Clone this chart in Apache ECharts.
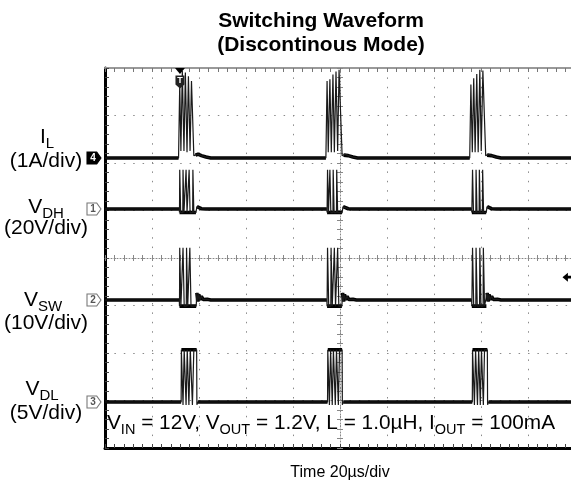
<!DOCTYPE html>
<html><head><meta charset="utf-8">
<script src="https://cdn.jsdelivr.net/npm/echarts@6/dist/echarts.min.js"></script>
<style>html,body{margin:0;padding:0;background:#fff}#c{width:571px;height:488px}</style>
</head><body><div id="c"></div>
<script>
// ---------- text ----------
const TITLE_LINES = ['Switching Waveform', '(Discontinous Mode)'];
const X_NAME = 'Time 20µs/div';
const NOTE = '{m|V}{s|IN}{m| = 12V, V}{s|OUT}{m| = 1.2V, L = 1.0µH, I}{s|OUT}{m| = 100mA}';
const CH_NAMES = ['{m|I}{s|L}', '{m|V}{s|DH}', '{m|V}{s|SW}', '{m|V}{s|DL}'];
const CH_SCALES_TEXT = ['(1A/div)', '(20V/div)', '(10V/div)', '(5V/div)'];
const CH_NUMBERS = ['4', '1', '2', '3'];

// ---------- scope settings ----------
const T_MIN = -100, T_MAX = 100, T_DIV = 20;      // µs, screen centre = 0
const DIV_MIN = -4, DIV_MAX = 4;                  // vertical divisions
const CH_UNITS_PER_DIV = [1, 20, 10, 5];          // A/div, V/div, V/div, V/div
const CH_POSITION_DIV = [2.105, 1.032, -0.884, -3.032];
const TRIG_TIME = -68.1;                          // µs
const TRIG_LEVEL_VSW = 4.8;                       // V

// ---------- waveforms [time µs, value] ----------
const IL_WAVE = [
  [-100,0],[-68.7,0],
  [-68.2,1.55],[-67.7,0.15],[-67.1,1.83],[-66.4,0.15],[-65.8,1.80],[-65.1,0.12],
  [-64.5,1.72],[-63.8,0.15],[-63.2,1.62],[-62.2,0.05],
  [-61.5,0.06],[-60.4,0.08],[-59.0,0.05],[-57,0.02],[-55,0],
  [-6.0,0],
  [-5.5,1.62],[-5.0,0.12],[-4.3,1.66],[-3.7,0.12],[-3.0,1.76],[-2.4,0.12],
  [-1.7,1.82],[-1.0,0.15],[-0.4,1.86],[0.9,0.05],
  [1.5,0.06],[2.2,0.08],[3.5,0.05],[5.5,0.02],[7.5,0],
  [55.2,0],
  [55.7,1.55],[56.3,0.12],[56.9,1.68],[57.5,0.12],[58.2,1.77],[58.8,0.12],
  [59.5,1.86],[60.1,0.15],[60.8,1.84],[62.0,0.05],
  [62.6,0.06],[63.2,0.08],[64.5,0.05],[66.5,0.02],[68.5,0],
  [100,0]
];
const VDH_WAVE = [
  [-100,0],[-68.4,0],[-68.3,-1.5],
  [-68.2,16.5],[-67.9,16.5],[-67.8,-1.5],
  [-66.9,-1.5],[-66.8,16.5],[-66.5,16.5],[-66.4,-1.5],
  [-65.6,-1.5],[-65.5,16.5],[-65.2,16.5],[-65.1,-1.5],
  [-64.3,-1.5],[-64.2,16.5],[-63.9,16.5],[-63.8,-1.5],
  [-62.7,-1.5],[-62.6,16.5],[-62.3,16.5],[-62.2,-1.5],
  [-61.3,-1.5],[-60.9,1.0],[-60.2,0.4],[-59,0.1],[-57,0],
  [-5.6,0],[-5.5,-1.5],
  [-5.3,16.5],[-5.0,16.5],[-4.9,-1.5],
  [-4.4,-1.5],[-4.3,16.5],[-4.0,16.5],[-3.9,-1.5],
  [-3.0,-1.5],[-2.9,16.5],[-2.6,16.5],[-2.5,-1.5],
  [-1.5,-1.5],[-1.4,16.5],[-1.1,16.5],[-1.0,-1.5],
  [0.9,-1.5],[1.3,1.0],[2.0,0.4],[3.5,0.1],[5.5,0],
  [56.0,0],[56.1,-1.5],
  [56.4,16.5],[56.7,16.5],[56.8,-1.5],
  [57.8,-1.5],[57.9,16.5],[58.2,16.5],[58.3,-1.5],
  [59.2,-1.5],[59.3,16.5],[59.6,16.5],[59.7,-1.5],
  [60.6,-1.5],[60.7,16.5],[61.0,16.5],[61.1,-1.5],
  [62.2,-1.5],[62.6,1.0],[63.3,0.4],[64.5,0.1],[66.5,0],
  [100,0]
];
const VSW_WAVE = [
  [-100,0],[-68.4,0],[-68.3,-1.3],
  [-68.2,11],[-67.8,11],[-67.7,-1.3],
  [-66.9,-1.3],[-66.8,11],[-66.4,11],[-66.3,-1.3],
  [-65.4,-1.3],[-65.3,11],[-64.9,11],[-64.8,-1.3],
  [-64.0,-1.3],[-63.9,11],[-63.5,11],[-63.4,-1.3],
  [-61.2,-1.3],[-60.9,1.5],[-60.5,-0.3],[-60.1,1.2],[-59.6,0],[-59.0,0.8],[-58.3,0.1],[-57.5,0.5],[-56.5,0.15],[-55,0],
  [-5.6,0],[-5.5,-1.3],
  [-5.3,11],[-4.9,11],[-4.8,-1.3],
  [-3.9,-1.3],[-3.8,11],[-3.4,11],[-3.3,-1.3],
  [-2.5,-1.3],[-2.4,11],[-2.0,11],[-1.9,-1.3],
  [-1.1,-1.3],[-1.0,11],[-0.6,11],[-0.5,-1.3],
  [0.8,-1.3],[1.1,1.5],[1.5,-0.3],[1.9,1.2],[2.4,0],[3.0,0.8],[3.7,0.1],[4.5,0.5],[5.5,0.15],[7,0],
  [56.0,0],[56.1,-1.3],
  [56.4,11],[56.8,11],[56.9,-1.3],
  [57.8,-1.3],[57.9,11],[58.3,11],[58.4,-1.3],
  [59.4,-1.3],[59.5,11],[59.9,11],[60.0,-1.3],
  [60.9,-1.3],[61.0,11],[61.4,11],[61.5,-1.3],
  [62.3,-1.3],[62.6,1.5],[63.0,-0.3],[63.4,1.2],[63.9,0],[64.5,0.8],[65.2,0.1],[66.0,0.5],[67.0,0.15],[68.5,0],
  [100,0]
];
const VDL_WAVE = [
  [-100,0],[-67.6,0],
  [-67.5,5.5],[-66.9,5.5],[-66.8,-0.3],[-66.4,-0.3],
  [-66.3,5.5],[-65.6,5.5],[-65.5,-0.3],[-65.1,-0.3],
  [-65.0,5.5],[-64.4,5.5],[-64.3,-0.3],[-63.8,-0.3],
  [-63.7,5.5],[-62.9,5.5],[-62.8,-0.3],[-62.3,-0.3],
  [-62.2,5.5],[-61.0,5.5],[-60.9,-0.3],[-60.5,0],
  [-5.3,0],
  [-5.2,5.5],[-4.6,5.5],[-4.5,-0.3],[-4.1,-0.3],
  [-4.0,5.5],[-3.4,5.5],[-3.3,-0.3],[-2.9,-0.3],
  [-2.8,5.5],[-2.1,5.5],[-2.0,-0.3],[-1.6,-0.3],
  [-1.5,5.5],[-0.8,5.5],[-0.7,-0.3],[-0.3,-0.3],
  [-0.2,5.5],[0.9,5.5],[1.0,-0.3],[1.4,0],
  [56.3,0],
  [56.4,5.5],[57.1,5.5],[57.2,-0.3],[57.6,-0.3],
  [57.7,5.5],[58.4,5.5],[58.5,-0.3],[58.9,-0.3],
  [59.0,5.5],[59.6,5.5],[59.7,-0.3],[60.1,-0.3],
  [60.2,5.5],[60.9,5.5],[61.0,-0.3],[61.4,-0.3],
  [61.5,5.5],[62.7,5.5],[62.8,-0.3],[63.2,0],
  [100,0]
];
// spans drawn as the thick noisy band: [from, to] or [from, to, level]
const IL_BAND = [[-100,-68.7],[-61.5,-6.0],[1.5,55.2],[62.6,100]];
const VDH_BAND = [[-100,-68.4],[-68.3,-61.3,-1.5],[-60.9,-5.6],[-5.5,0.9,-1.5],[1.3,56.0],[56.1,62.2,-1.5],[62.6,100]];
const VSW_BAND = [[-100,-68.4],[-68.3,-61.2,-1.3],[-60.9,-5.6],[-5.5,0.8,-1.3],[1.1,56.0],[56.1,62.3,-1.3],[62.6,100]];
const VDL_BAND = [[-100,-67.6],[-67.5,-61.0,5.5],[-60.5,-5.3],[-5.2,0.9,5.5],[1.4,56.3],[56.4,62.7,5.5],[63.2,100]];

const WAVES = [IL_WAVE, VDH_WAVE, VSW_WAVE, VDL_WAVE];
const BANDS = [IL_BAND, VDH_BAND, VSW_BAND, VDL_BAND];

// ---------- build ----------
const FONT = '"Liberation Sans", Arial, Helvetica, sans-serif';

function bandData(wave, spans) {
  const out = [];
  spans.forEach((s, k) => {
    if (k) out.push([s[0], null]);
    wave.forEach(p => {
      if (p[0] >= s[0] && p[0] <= s[1] && (s.length < 3 || p[1] === s[2])) out.push(p);
    });
  });
  return out;
}

const tickCommon = (color, inside, len) => ({
  axisTick: {show: true, inside: inside, length: len, lineStyle: {color: color, width: 1}},
  minorTick: {show: true, splitNumber: 5, length: len, lineStyle: {color: color, width: 1}},
  axisLabel: {show: false}
});

const xAxes = [
  Object.assign({
    type: 'value', min: T_MIN, max: T_MAX, interval: T_DIV, position: 'bottom',
    name: X_NAME, nameLocation: 'middle', nameGap: 17,
    nameTextStyle: {fontSize: 16, color: '#000', fontFamily: FONT},
    axisLine: {show: true, onZero: false, lineStyle: {color: '#000', width: 3}},
    splitLine: {show: true, lineStyle: {color: '#8a8a8a', width: 1, type: [1.5, 7.9]}}
  }, tickCommon('#444', true, 4)),
  Object.assign({
    type: 'value', min: T_MIN, max: T_MAX, interval: T_DIV, position: 'top',
    axisLine: {show: true, onZero: false, lineStyle: {color: '#999', width: 2}},
    splitLine: {show: false}
  }, tickCommon('#777', true, 4)),
  Object.assign({
    type: 'value', min: T_MIN, max: T_MAX, interval: T_DIV, position: 'bottom',
    axisLine: {show: true, onZero: true, onZeroAxisIndex: 0, lineStyle: {color: '#888', width: 1, type: [1, 2]}},
    splitLine: {show: false}
  }, tickCommon('#888', true, 3)),
  Object.assign({
    type: 'value', min: T_MIN, max: T_MAX, interval: T_DIV, position: 'bottom',
    axisLine: {show: false, onZero: true, onZeroAxisIndex: 0},
    splitLine: {show: false}
  }, tickCommon('#888', false, 3))
];

const yAxes = [
  Object.assign({
    type: 'value', min: DIV_MIN, max: DIV_MAX, interval: 1, position: 'left',
    axisLine: {show: true, onZero: false, lineStyle: {color: '#000', width: 3}},
    splitLine: {show: true, lineStyle: {color: '#8a8a8a', width: 1, type: [1.5, 7.9]}}
  }, tickCommon('#444', true, 4)),
  Object.assign({
    type: 'value', min: DIV_MIN, max: DIV_MAX, interval: 1, position: 'left',
    axisLine: {show: true, onZero: true, onZeroAxisIndex: 0, lineStyle: {color: '#888', width: 1, type: [1, 2]}},
    splitLine: {show: false}
  }, tickCommon('#888', true, 3)),
  Object.assign({
    type: 'value', min: DIV_MIN, max: DIV_MAX, interval: 1, position: 'left',
    axisLine: {show: false, onZero: true, onZeroAxisIndex: 0},
    splitLine: {show: false}
  }, tickCommon('#888', false, 3))
];
CH_UNITS_PER_DIV.forEach((u, i) => {
  yAxes.push({
    type: 'value', show: false,
    min: (DIV_MIN - CH_POSITION_DIV[i]) * u,
    max: (DIV_MAX - CH_POSITION_DIV[i]) * u
  });
});

const TAG_PATH = 'path://M0,0 L9,0 L13,6 L9,12 L0,12 Z';
const series = [];
WAVES.forEach((w, i) => {
  series.push({
    type: 'line', xAxisIndex: 0, yAxisIndex: 3 + i, data: bandData(w, BANDS[i]),
    showSymbol: false, symbol: 'none', connectNulls: false, silent: true, z: 3,
    lineStyle: {color: '#000', width: 3.6}
  });
});
WAVES.forEach((w, i) => {
  const first = i === 0;
  const marks = [{
    coord: [T_MIN, 0], symbol: TAG_PATH, symbolSize: [14, 12], symbolOffset: [-11, 0],
    itemStyle: first ? {color: '#000', borderColor: '#000', borderWidth: 1} : {color: '#fff', borderColor: '#777', borderWidth: 1},
    label: {show: true, formatter: CH_NUMBERS[i], position: 'inside', offset: [-1, 0],
      color: first ? '#fff' : '#555', fontSize: 10, fontWeight: 'bold', fontFamily: FONT}
  }];
  if (first) {
    const top = (DIV_MAX - CH_POSITION_DIV[0]) * CH_UNITS_PER_DIV[0];
    marks.push({coord: [TRIG_TIME, top], symbol: 'triangle', symbolRotate: 180, symbolSize: [10, 6], symbolOffset: [0, 3],
      itemStyle: {color: '#000'}, label: {show: false}});
    marks.push({coord: [TRIG_TIME, top], symbol: 'path://M0,0 L10,0 L10,9 L5,13 L0,9 Z', symbolSize: [9, 13], symbolOffset: [0, 14],
      itemStyle: {color: '#222'}, label: {show: true, formatter: 'T', position: 'inside', offset: [0, -1], color: '#fff', fontSize: 9, fontWeight: 'bold', fontFamily: FONT}});
  }
  if (i === 2) {
    marks.push({coord: [T_MAX, TRIG_LEVEL_VSW], symbol: 'path://M0,5 L6,0 L6,3.5 L10,3.5 L10,6.5 L6,6.5 L6,10 Z', symbolSize: [9, 9], symbolOffset: [-8, 0],
      itemStyle: {color: '#000'}, label: {show: false}});
  }
  series.push({
    type: 'line', xAxisIndex: 0, yAxisIndex: 3 + i, data: w,
    showSymbol: false, symbol: 'none', silent: true, z: 4,
    lineStyle: {color: '#1a1a1a', width: 1.2},
    markPoint: {silent: true, data: marks, animation: false}
  });
});

const richMain = {
  m: {fontSize: 21, fontFamily: FONT, color: '#000', lineHeight: 28, verticalAlign: 'middle'},
  s: {fontSize: 15, fontFamily: FONT, color: '#000', lineHeight: 15, verticalAlign: 'bottom'}
};
const richNote = {
  m: {fontSize: 20.8, fontFamily: FONT, color: '#000', lineHeight: 28, verticalAlign: 'middle'},
  s: {fontSize: 14.5, fontFamily: FONT, color: '#000', lineHeight: 15, verticalAlign: 'bottom'}
};
const LABEL_X = [47, 46, 43, 42];
const NAME_Y = [137, 207, 300, 389];
const SCALE_Y = [161, 228, 323, 413];
const graphic = [];
TITLE_LINES.forEach((t, k) => graphic.push({
  type: 'text', x: 321, y: 21 + k * 24,
  style: {text: t, fill: '#000', font: 'bold 21px ' + FONT, align: 'center', verticalAlign: 'middle'}
}));
CH_NAMES.forEach((t, i) => {
  graphic.push({type: 'text', x: LABEL_X[i], y: NAME_Y[i],
    style: {text: t, rich: richMain, align: 'center', verticalAlign: 'middle'}});
  graphic.push({type: 'text', x: 46, y: SCALE_Y[i],
    style: {text: CH_SCALES_TEXT[i], fill: '#000', font: '21px ' + FONT, align: 'center', verticalAlign: 'middle'}});
});
graphic.push({type: 'text', x: 107, y: 423,
  style: {text: NOTE, rich: richNote, align: 'left', verticalAlign: 'middle'}});

const chart = echarts.init(document.getElementById('c'), null, {renderer: 'canvas'});
chart.setOption({
  animation: false,
  backgroundColor: '#fff',
  textStyle: {fontFamily: FONT},
  grid: {left: 105, top: 68, width: 470, height: 380, containLabel: false, outerBoundsMode: 'none'},
  xAxis: xAxes,
  yAxis: yAxes,
  series: series,
  graphic: graphic
});
</script></body></html>
